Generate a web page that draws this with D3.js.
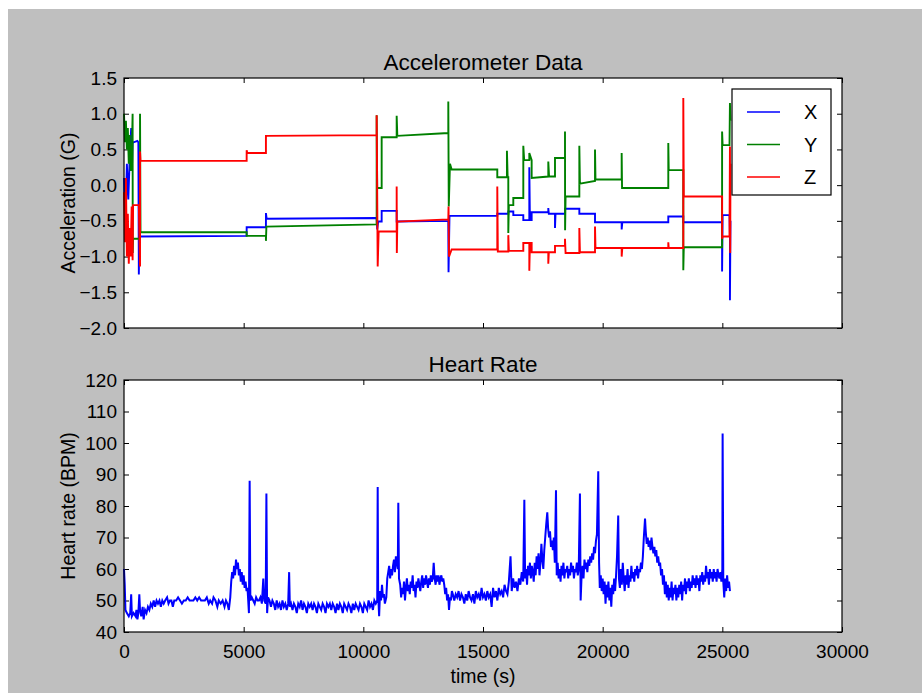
<!DOCTYPE html>
<html>
<head>
<meta charset="utf-8">
<script src="https://cdn.jsdelivr.net/npm/d3@7"></script>
<style>
  body { margin: 0; background: #ffffff; }
  svg { display: block; font-family: "Liberation Sans", Arial, sans-serif; }
</style>
</head>
<body>
<div id="chart"></div>
<script>
// Data
var xTicks = [0, 5000, 10000, 15000, 20000, 25000, 30000];
var accelTicks = [1.5, 1.0, 0.5, 0.0, -0.5, -1.0, -1.5, -2.0];
var hrTicks = [40, 50, 60, 70, 80, 90, 100, 110, 120];
var seriesNames = ["X", "Y", "Z"];
var seriesColors = ["#0000ff", "#008000", "#ff0000"];

// [time (s), acceleration (G)]
var accelX = [[0,0.1],[60,-0.6],[120,0.3],[180,-0.2],[240,0.4],[300,0.8],[330,0.2],[360,0.6],[400,0.6],[560,0.62],[600,0.6],[620,-1.25],[650,-0.5],
  [670,-0.72],[5125,-0.71],[5125,-0.59],[5930,-0.59],[5930,-0.39],[5960,-0.47],[10557,-0.46],[10580,-0.62],[10620,-0.51],[10766,-0.51],[10766,-0.36],
  [11393,-0.36],[11393,-0.51],[13550,-0.50],[13560,-1.22],[13600,-0.43],[15597,-0.43],[15597,-0.40],[16057,-0.40],[16057,-0.37],[16266,-0.37],
  [16266,-0.42],[16684,-0.42],[16684,-0.49],[16935,-0.49],[16935,0.25],[16960,-0.49],[17033,-0.49],[17033,-0.38],[17728,-0.38],[17728,-0.32],
  [17750,-0.40],[18008,-0.40],[18008,-0.60],[18030,-0.40],[18426,-0.40],[18426,-0.33],[19025,-0.33],[19025,-0.40],[19680,-0.40],[19680,-0.52],
  [20794,-0.52],[20794,-0.62],[20820,-0.52],[22742,-0.52],[22742,-0.44],[23369,-0.44],[23369,-0.52],[24990,-0.52],[24990,-1.21],[25012,-0.42],
  [25300,-0.42],[25318,-0.70],[25318,-1.61],[25340,-0.5]];

var accelY = [[0,1.0],[40,0.6],[80,0.9],[120,0.5],[160,0.8],[200,0.3],[240,0.7],[280,0.2],[330,0.5],[360,1.0],[365,-0.95],[380,-0.75],[620,-0.75],
  [670,-0.75],[670,1.0],[690,-0.66],[5125,-0.66],[5125,-0.71],[5930,-0.71],[5930,-0.78],[5950,-0.58],[10557,-0.55],[10557,0.98],[10580,-0.04],
  [10766,-0.04],[10766,0.67],[11393,0.67],[11393,0.97],[11420,0.69],[13550,0.73],[13550,1.17],[13570,-0.3],[13620,0.3],[13690,0.22],[15597,0.22],
  [15597,0.11],[16000,0.11],[16000,0.48],[16030,0.11],[16057,0.11],[16057,-0.67],[16080,-0.28],[16266,-0.28],[16266,-0.18],[16684,-0.18],
  [16684,0.55],[16720,0.35],[16935,0.35],[16935,0.45],[17033,0.35],[17033,0.10],[17728,0.12],[17728,0.33],[17760,0.12],[18008,0.12],[18008,0.38],
  [18426,0.38],[18426,0.75],[18430,-0.63],[18450,-0.16],[19025,-0.16],[19025,0.55],[19050,0.02],[19680,0.06],[19680,0.50],[19700,0.08],
  [20794,0.08],[20794,0.45],[20810,-0.04],[22742,-0.04],[22742,0.59],[22760,0.21],[23369,0.21],[23369,-1.19],[23390,-0.87],[24990,-0.87],
  [24990,0.75],[25012,0.56],[25300,0.56],[25318,1.15],[25340,0.9]];

var accelZ = [[0,-0.1],[40,-0.8],[80,0.1],[120,-1.0],[160,-0.4],[200,-1.1],[240,-0.6],[280,-1.0],[320,-0.3],[360,-1.05],[380,-0.28],[620,-0.28],
  [670,-1.14],[670,0.47],[690,0.34],[5125,0.34],[5125,0.49],[5150,0.45],[5930,0.45],[5930,0.69],[10557,0.70],[10557,0.98],[10600,-1.14],
  [10640,-0.65],[10766,-0.65],[11393,-0.65],[11393,-0.02],[11400,-0.95],[11420,-0.51],[13550,-0.48],[13560,-0.3],[13580,-1.0],[13690,-0.90],
  [15597,-0.90],[15597,-0.02],[15620,-0.93],[16057,-0.93],[16057,-0.7],[16080,-0.92],[16684,-0.92],[16684,-0.81],[16935,-0.81],[16935,-1.2],
  [16960,-0.81],[17033,-0.81],[17033,-0.94],[17728,-0.94],[17728,-1.1],[17750,-0.94],[18008,-0.94],[18008,-0.85],[18426,-0.85],[18426,-0.75],
  [18450,-0.95],[19025,-0.95],[19025,-0.60],[19050,-0.94],[19680,-0.94],[19680,-0.58],[19700,-0.88],[20794,-0.88],[20794,-1.0],[20820,-0.88],
  [22742,-0.88],[22742,-0.80],[22760,-0.88],[23369,-0.88],[23369,1.22],[23390,-0.16],[24990,-0.16],[24990,-0.75],[25012,-0.72],[25300,-0.72],
  [25318,0.54],[25330,-0.95],[25340,0.3]];

// [time (s), heart rate (BPM)]
var heartRate = [[0,60],[30,55],[60,47],[120,46],[200,45],[260,46],[300,52],[330,45],[400,46],[480,45],[520,47],[560,44],[600,46],[640,52],
  [670,47],[720,45],[780,48],[820,44],[880,47],[940,46],[1000,48],[1060,47],[1120,49],[1180,48],[1240,50],[1300,48],[1360,50],[1420,49],
  [1480,50],[1540,48],[1600,50],[1660,49],[1720,50],[1800,51],[1860,49],[1920,50],[1980,50],[2040,48],[2100,50],[2180,50],[2260,51],[2340,50],
  [2420,49],[2500,50],[2580,50],[2660,51],[2740,50],[2820,50],[2900,50],[2980,51],[3060,50],[3140,51],[3220,50],[3300,50],[3380,50],[3460,51],
  [3540,49],[3600,50],[3680,49],[3740,51],[3820,50],[3900,48],[3960,50],[4040,49],[4120,50],[4200,48],[4260,50],[4320,49],[4380,47],[4440,51],
  [4480,56],[4520,59],[4560,57],[4600,61],[4640,58],[4680,63],[4720,60],[4760,62],[4800,58],[4840,60],[4880,56],[4920,59],[4960,55],[5000,58],
  [5040,54],[5080,56],[5120,53],[5160,54],[5220,46],[5250,88],[5280,50],[5340,51],[5400,50],[5460,49],[5520,51],[5580,50],[5640,50],[5700,51],
  [5760,49],[5820,57],[5860,50],[5920,49],[5950,84],[5980,46],[6020,51],[6080,50],[6140,48],[6200,50],[6260,49],[6320,47],[6380,50],[6440,48],
  [6500,49],[6560,47],[6620,50],[6680,48],[6740,49],[6800,47],[6860,49],[6900,59],[6930,48],[6980,49],[7040,47],[7100,49],[7160,48],[7220,46],
  [7280,49],[7340,48],[7400,50],[7460,47],[7520,49],[7580,48],[7640,46],[7700,49],[7760,48],[7820,49],[7880,47],[7940,49],[8000,48],[8060,46],
  [8120,49],[8180,48],[8240,47],[8300,49],[8360,48],[8420,46],[8480,49],[8540,48],[8600,49],[8660,47],[8720,49],[8780,48],[8840,46],[8900,49],
  [8960,47],[9020,49],[9080,48],[9140,46],[9200,49],[9260,48],[9320,47],[9380,49],[9440,48],[9500,46],[9560,49],[9620,47],[9680,49],[9740,48],
  [9800,47],[9860,49],[9920,48],[9980,46],[10040,49],[10100,48],[10160,47],[10220,50],[10280,48],[10340,49],[10400,47],[10460,50],[10520,49],
  [10580,50],[10600,86],[10620,52],[10660,45],[10700,53],[10740,50],[10780,55],[10820,51],[10860,52],[10900,49],[10960,51],[11000,57],[11040,59],
  [11080,61],[11120,57],[11160,60],[11200,58],[11240,61],[11280,63],[11320,59],[11360,64],[11400,62],[11440,60],[11461,81],[11490,57],[11540,55],
  [11580,51],[11620,54],[11660,52],[11700,56],[11740,50],[11780,54],[11820,57],[11860,53],[11900,55],[11940,52],[11980,56],[12020,54],[12060,58],
  [12100,53],[12140,55],[12180,51],[12220,56],[12260,54],[12300,57],[12340,55],[12380,53],[12420,56],[12460,58],[12500,54],[12540,57],[12580,55],
  [12620,58],[12660,56],[12700,54],[12740,57],[12780,55],[12820,58],[12860,56],[12900,57],[12940,62],[12980,57],[13020,55],[13060,58],[13100,56],
  [13140,58],[13180,55],[13220,57],[13260,58],[13300,56],[13340,57],[13380,55],[13420,52],[13460,54],[13500,50],[13540,52],[13580,47],[13620,51],
  [13660,50],[13700,53],[13740,52],[13800,50],[13860,52],[13920,51],[13980,53],[14040,50],[14100,52],[14160,51],[14220,49],[14280,52],[14340,50],
  [14400,53],[14460,51],[14520,50],[14580,52],[14640,49],[14700,53],[14760,51],[14820,52],[14880,50],[14940,54],[15000,51],[15060,52],[15120,50],
  [15180,53],[15240,51],[15300,52],[15360,48],[15420,54],[15480,51],[15540,53],[15600,50],[15660,54],[15720,52],[15780,53],[15840,51],[15900,55],
  [15960,53],[16020,52],[16080,56],[16150,64],[16200,53],[16260,57],[16320,54],[16380,56],[16440,53],[16500,57],[16560,55],[16620,59],[16680,56],
  [16727,82],[16760,57],[16800,60],[16840,55],[16880,61],[16920,58],[16960,62],[17000,57],[17040,61],[17080,59],[17120,56],[17160,62],[17200,58],
  [17240,64],[17280,60],[17320,65],[17360,58],[17400,62],[17440,68],[17480,63],[17520,60],[17560,66],[17600,70],[17640,74],[17686,78],[17720,73],
  [17760,70],[17800,72],[17840,67],[17880,69],[17920,66],[17960,70],[18000,62],[18050,85],[18080,58],[18120,62],[18160,57],[18200,60],[18240,56],
  [18280,61],[18320,58],[18360,62],[18400,57],[18440,60],[18480,59],[18520,61],[18560,57],[18600,60],[18640,58],[18680,62],[18720,59],[18760,61],
  [18800,57],[18840,60],[18880,59],[18920,62],[18960,58],[19000,60],[19050,84],[19080,50],[19120,58],[19160,61],[19200,57],[19240,63],[19280,60],
  [19320,62],[19360,59],[19400,63],[19440,61],[19480,64],[19520,62],[19560,65],[19600,63],[19640,67],[19680,65],[19720,69],[19760,71],[19816,91],
  [19850,62],[19880,54],[19920,58],[19960,53],[20000,57],[20040,52],[20080,56],[20120,49],[20160,55],[20200,51],[20240,56],[20280,50],[20320,54],
  [20360,48],[20400,55],[20440,52],[20480,57],[20520,53],[20560,58],[20600,64],[20650,77],[20680,57],[20720,54],[20760,60],[20800,55],[20840,62],
  [20880,57],[20920,53],[20960,58],[21000,55],[21040,60],[21080,54],[21120,58],[21160,56],[21200,61],[21240,57],[21280,59],[21320,56],[21360,60],
  [21400,58],[21440,61],[21480,57],[21520,60],[21560,59],[21600,62],[21640,60],[21680,64],[21720,70],[21770,76],[21800,72],[21840,68],[21880,70],
  [21920,67],[21960,69],[22000,66],[22040,70],[22080,67],[22120,65],[22160,67],[22200,64],[22240,66],[22280,62],[22320,64],[22360,61],[22400,62],
  [22440,58],[22480,60],[22520,55],[22560,58],[22600,52],[22640,56],[22680,51],[22720,55],[22760,50],[22800,54],[22840,51],[22880,56],[22920,50],
  [22960,54],[23000,52],[23040,55],[23080,50],[23120,54],[23160,51],[23200,55],[23240,52],[23280,56],[23320,50],[23360,55],[23400,53],[23440,57],
  [23480,52],[23520,56],[23560,54],[23600,57],[23640,53],[23680,56],[23720,54],[23760,58],[23800,55],[23840,57],[23880,54],[23920,58],[23960,55],
  [24000,57],[24040,53],[24080,58],[24120,56],[24160,59],[24200,55],[24240,58],[24280,56],[24320,61],[24360,57],[24400,59],[24440,55],[24480,60],
  [24520,57],[24560,59],[24600,56],[24640,60],[24680,57],[24720,59],[24760,56],[24800,60],[24840,58],[24880,57],[24920,59],[24960,56],[25000,60],
  [25012,103],[25040,56],[25080,51],[25120,57],[25160,53],[25200,58],[25240,54],[25280,56],[25318,53]];

// Layout
var width = 922, height = 693;
var plotLeft = 124, plotRight = 842;
var topPanel = {top: 78, bottom: 328};
var bottomPanel = {top: 380, bottom: 632};

var svg = d3.select("#chart").append("svg")
    .attr("width", width)
    .attr("height", height);

// grey figure background (white strip at top/left like the screenshot)
svg.append("rect")
    .attr("x", 8).attr("y", 9)
    .attr("width", width - 8).attr("height", height - 9)
    .attr("fill", "#bfbfbf");

var x = d3.scaleLinear().domain([0, 30000]).range([plotLeft, plotRight]);
var yAcc = d3.scaleLinear().domain([-2, 1.5]).range([topPanel.bottom, topPanel.top]);
var yHr = d3.scaleLinear().domain([40, 120]).range([bottomPanel.bottom, bottomPanel.top]);

/**
 * Draws one axes box with inward ticks on all four sides
 */
function drawPanel(panel, yScale, yTickValues, yFormat, showXLabels) {
    var g = svg.append("g");
    g.append("rect")
        .attr("x", plotLeft).attr("y", panel.top)
        .attr("width", plotRight - plotLeft).attr("height", panel.bottom - panel.top)
        .attr("fill", "#ffffff");

    var axes = [
        d3.axisBottom(x).tickValues(xTicks).tickSizeInner(-5).tickSizeOuter(0).tickPadding(13)
            .tickFormat(showXLabels ? d3.format("d") : ""),
        d3.axisTop(x).tickValues(xTicks).tickSizeInner(-5).tickSizeOuter(0).tickFormat(""),
        d3.axisLeft(yScale).tickValues(yTickValues).tickSizeInner(-5).tickSizeOuter(0).tickPadding(7).tickFormat(yFormat),
        d3.axisRight(yScale).tickValues(yTickValues).tickSizeInner(-5).tickSizeOuter(0).tickFormat("")
    ];
    var offsets = ["translate(0," + panel.bottom + ")", "translate(0," + panel.top + ")",
                   "translate(" + plotLeft + ",0)", "translate(" + plotRight + ",0)"];
    axes.forEach(function(ax, i) {
        var ag = g.append("g").attr("transform", offsets[i]).call(ax);
        ag.select(".domain").remove();
        ag.selectAll("line").attr("stroke", "#000").attr("stroke-width", 1);
        ag.selectAll("text").attr("fill", "#000").style("font-size", "19px")
            .style("font-family", "'Liberation Sans', Arial, sans-serif");
    });
    return g;
}

function frame(panel) {
    svg.append("rect")
        .attr("x", plotLeft).attr("y", panel.top)
        .attr("width", plotRight - plotLeft).attr("height", panel.bottom - panel.top)
        .attr("fill", "none").attr("stroke", "#000").attr("stroke-width", 1.2);
}

// Top panel: accelerometer
drawPanel(topPanel, yAcc, accelTicks, d3.format(".1f"), false);

var accLine = d3.line()
    .x(function(d) { return x(d[0]); })
    .y(function(d) { return yAcc(d[1]); });

[accelX, accelY, accelZ].forEach(function(series, i) {
    svg.append("path")
        .datum(series)
        .attr("d", accLine)
        .attr("fill", "none")
        .attr("stroke", seriesColors[i])
        .attr("stroke-width", 1.9)
        .attr("stroke-linejoin", "miter");
});
frame(topPanel);

svg.append("text")
    .attr("x", (plotLeft + plotRight) / 2).attr("y", topPanel.top - 8)
    .attr("text-anchor", "middle")
    .style("font-size", "22.5px")
    .text("Accelerometer Data");

svg.append("text")
    .attr("transform", "translate(75," + (topPanel.top + topPanel.bottom) / 2 + ") rotate(-90)")
    .attr("text-anchor", "middle")
    .style("font-size", "19.5px")
    .text("Acceleration (G)");

// Legend
var legend = svg.append("g");
legend.append("rect")
    .attr("x", 732).attr("y", 89).attr("width", 99).attr("height", 106)
    .attr("fill", "#ffffff").attr("stroke", "#000").attr("stroke-width", 1.2);
seriesNames.forEach(function(name, i) {
    var ly = 112 + i * 32.5;
    legend.append("line")
        .attr("x1", 747).attr("x2", 780).attr("y1", ly).attr("y2", ly)
        .attr("stroke", seriesColors[i]).attr("stroke-width", 1.6);
    legend.append("text")
        .attr("x", 804).attr("y", ly + 7)
        .style("font-size", "20px")
        .text(name);
});

// Bottom panel: heart rate
drawPanel(bottomPanel, yHr, hrTicks, d3.format("d"), true);

var hrLine = d3.line()
    .x(function(d) { return x(d[0]); })
    .y(function(d) { return yHr(d[1]); });

svg.append("path")
    .datum(heartRate)
    .attr("d", hrLine)
    .attr("fill", "none")
    .attr("stroke", "#0000ff")
    .attr("stroke-width", 2);
frame(bottomPanel);

svg.append("text")
    .attr("x", (plotLeft + plotRight) / 2).attr("y", bottomPanel.top - 8)
    .attr("text-anchor", "middle")
    .style("font-size", "22.5px")
    .text("Heart Rate");

svg.append("text")
    .attr("transform", "translate(75," + (bottomPanel.top + bottomPanel.bottom) / 2 + ") rotate(-90)")
    .attr("text-anchor", "middle")
    .style("font-size", "19.5px")
    .text("Heart rate (BPM)");

svg.append("text")
    .attr("x", (plotLeft + plotRight) / 2).attr("y", 683)
    .attr("text-anchor", "middle")
    .style("font-size", "19.5px")
    .text("time (s)");
</script>
</body>
</html>
